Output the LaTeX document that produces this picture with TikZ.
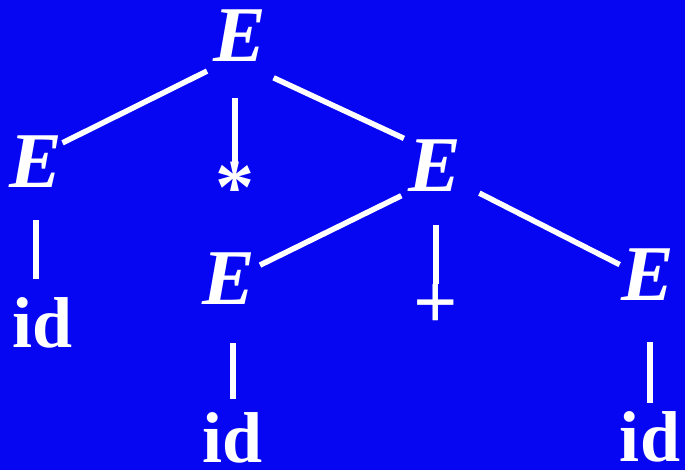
\documentclass[tikz,border=0pt]{standalone}
\usepackage{fontspec}
\setmainfont{Liberation Serif}
\usetikzlibrary{positioning}
\definecolor{colBack}{RGB}{6,6,242}

\begin{document}
\begin{tikzpicture}[x=1pt, y=-1pt,
    every node/.style={text=white, inner sep=0pt},
    nonterm/.style={anchor=base, font=\fontsize{79}{80}\selectfont\bfseries\itshape},
    term/.style={anchor=base, font=\fontsize{72}{74}\selectfont\bfseries},
    op/.style={anchor=north, font=\fontsize{78}{80}\selectfont\bfseries},
    branch/.style={draw=white, line width=5.5pt}
]
    % background
    \fill[colBack] (0,0) rectangle (685,470);

    % nonterminals
    \node[nonterm] (eTop) at (240,62) {E};
    \node[nonterm] (eL) at (36,188) {E};
    \node[nonterm] (eR) at (435,192) {E};
    \node[nonterm] (eRL) at (229,305) {E};
    \node[nonterm] (eRR) at (648,300) {E};

    % terminals
    \node[op] (star) at (235,162) {*};
    \node[op] (plus) at (436,284) {+};
    \node[term] (idL) at (43,347) {id};
    \node[term] (idM) at (233,462) {id};
    \node[term] (idR) at (650,461) {id};

    % branches of the root
    \draw[branch, shorten <=20pt] (eTop.-120) -- (eL.36);
    \draw[branch, shorten <=36pt] (eTop.south -| star.north) -- (star.north);
    \draw[branch, shorten <=37pt, shorten >=5pt] (eTop.south) -- (eR.136);

    % branches of the right E
    \draw[branch, shorten <=8pt, shorten >=5pt] (eR.south west) -- (eRL.24);
    \draw[branch, shorten <=33pt] (eR.south -| plus.north) -- (plus.north);
    \draw[branch, shorten <=20pt, shorten >=2pt] (eR.-34) -- (eRR.162);

    % leaves
    \draw[branch, shorten <=32pt, shorten >=18pt] (eL.south) -- (eL.south |- idL.north);
    \draw[branch, shorten <=38pt, shorten >=13pt] (eRL.south -| idM.north) -- (idM.north);
    \draw[branch, shorten <=42pt, shorten >=8pt] (eRR.south -| idR.north) -- (idR.north);
\end{tikzpicture}
\end{document}
